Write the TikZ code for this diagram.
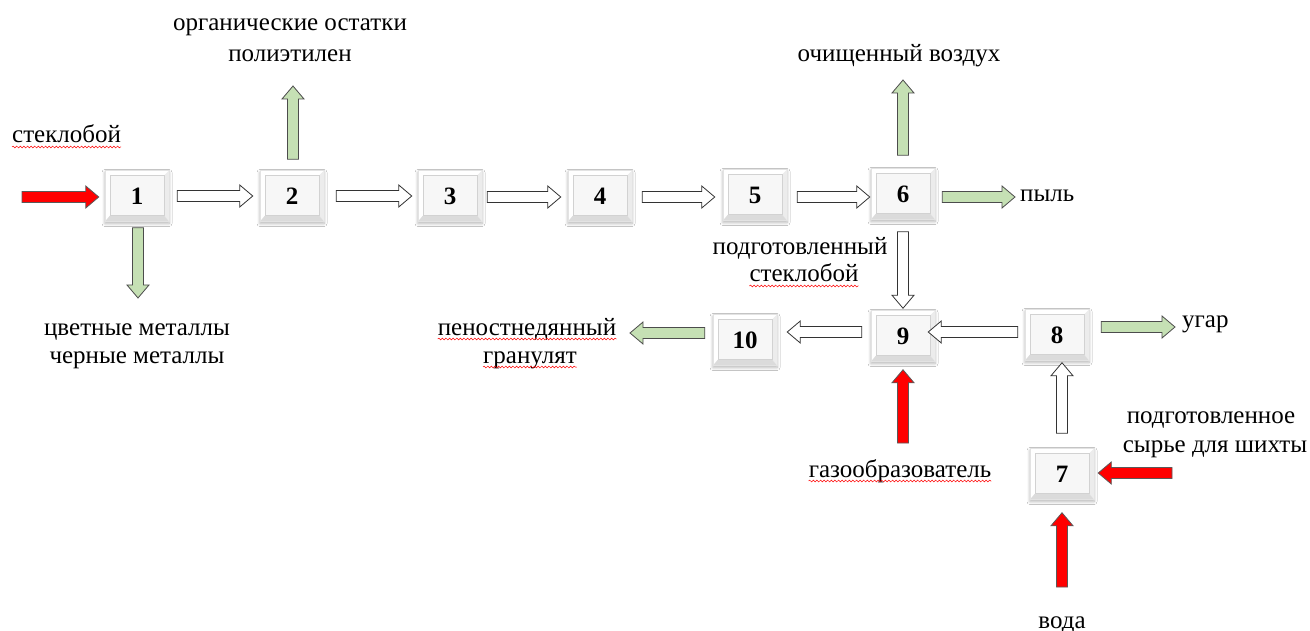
\documentclass[tikz,border=0pt]{standalone}
\usepackage{fontspec}
\setmainfont{Liberation Serif}
\usetikzlibrary{calc,shadows.blur,decorations.pathmorphing}
\definecolor{agreen}{RGB}{197,224,180}
\definecolor{ared}{RGB}{255,0,0}
\newcommand\blockarr[3]{%
  \path[#1] let \p1=(#2), \p2=(#3), \n1={atan2(\y2-\y1,\x2-\x1)}, \n2={veclen(\x2-\x1,\y2-\y1)} in
   [shift={(\p1)}, rotate=\n1] (0pt,-5.5pt) -- (\n2*1pt-13pt,-5.5pt) -- (\n2*1pt-13pt,-11pt) -- (\n2*1pt,0pt)
   -- (\n2*1pt-13pt,11pt) -- (\n2*1pt-13pt,5.5pt) -- (0pt,5.5pt) -- cycle;}
\begin{document}
\begin{tikzpicture}[x=1pt,y=-1pt,
  box/.style={minimum width=64pt,minimum height=51pt,inner sep=0pt,draw=gray!22,line width=0.5pt,
    fill=gray!5,font=\fontsize{25}{29}\selectfont\bfseries,
    blur shadow={shadow xshift=0pt,shadow yshift=-2pt,shadow blur radius=3pt,shadow blur steps=6,shadow opacity=30},
    path picture={
      \path (path picture bounding box.north west) coordinate (pnw)
            (path picture bounding box.north east) coordinate (pne)
            (path picture bounding box.south west) coordinate (psw)
            (path picture bounding box.south east) coordinate (pse);
      \fill[white] (pnw) -- (pne) -- ([shift={(-5pt,-5pt)}]pne) -- ([shift={(5pt,-5pt)}]pnw) -- cycle;
      \fill[white] (pnw) -- (psw) -- ([shift={(5pt,6pt)}]psw) -- ([shift={(5pt,-5pt)}]pnw) -- cycle;
      \fill[gray!15] (pse) -- (pne) -- ([shift={(-5pt,-5pt)}]pne) -- ([shift={(-5pt,6pt)}]pse) -- cycle;
      \fill[gray!28] (psw) -- (pse) -- ([shift={(-5pt,6pt)}]pse) -- ([shift={(5pt,6pt)}]psw) -- cycle;
      \fill[gray!6] ([shift={(5pt,-5pt)}]pnw) rectangle ([shift={(-5pt,6pt)}]pse);
      \draw[gray!35,line width=0.5pt] ([shift={(5pt,-5pt)}]pnw) rectangle ([shift={(-5pt,6pt)}]pse);
    }},
  lbl/.style={font=\fontsize{25}{29}\selectfont,inner sep=0pt,anchor=base},
  warr/.style={draw=black!80,fill=white,line width=0.8pt,line join=miter},
  garr/.style={draw=black!70,fill=agreen,line width=0.8pt,line join=miter},
  rarr/.style={draw=black!65,fill=ared,line width=0.8pt,line join=miter},
  squig/.style={red,line width=0.5pt,decorate,decoration={snake,amplitude=0.9pt,segment length=3.6pt}}
]
\useasboundingbox (0,0) rectangle (1310,631);
\fill[white] (0,0) rectangle (1310,631);

% boxes
\node[box] (b1) at (137,196) {1};
\node[box] (b2) at (292,196) {2};
\node[box] (b3) at (450,196) {3};
\node[box] (b4) at (600,196) {4};
\node[box] (b5) at (755,195) {5};
\node[box] (b6) at (903,194) {6};
\node[box] (b9) at (903,336) {9};
\node[box] (b10) at (745,340) {10};
\node[box] (b8) at (1057,335) {8};
\node[box] (b7) at (1062,474) {7};

% labels
\node[lbl,anchor=base west] (t1) at (12,143) {стеклобой};
\node[lbl] (t2a) at (290,31) {органические остатки};
\node[lbl] (t2b) at (290,62) {полиэтилен};
\node[lbl] (t3a) at (137,335) {цветные металлы};
\node[lbl] (t3b) at (137,363) {черные металлы};
\node[lbl] (t4) at (899,62) {очищенный воздух};
\node[lbl,anchor=base west] (t5) at (1020,202) {пыль};
\node[lbl] (t6a) at (800,255) {подготовленный};
\node[lbl] (t6b) at (804,282) {стеклобой};
\node[lbl] (t7a) at (527,335) {пеностнедянный};
\node[lbl] (t7b) at (530,363) {гранулят};
\node[lbl,anchor=base west] (t8) at (1182,327) {угар};
\node[lbl] (t9a) at (1211,423) {подготовленное};
\node[lbl] (t9b) at (1215,452) {сырье для шихты};
\node[lbl] (t10) at (900,477) {газообразователь};
\node[lbl] (t11) at (1062,628) {вода};

% spell-check squiggles
\draw[squig] ([yshift=-4pt]t1.base west) -- ([yshift=-4pt]t1.base east);
\draw[squig] ([yshift=-4pt]t6b.base west) -- ([yshift=-4pt]t6b.base east);
\draw[squig] ([yshift=-4pt]t7a.base west) -- ([yshift=-4pt]t7a.base east);
\draw[squig] ([yshift=-4pt]t7b.base west) -- ([yshift=-4pt]t7b.base east);
\draw[squig] ([yshift=-4pt]t10.base west) -- ([yshift=-4pt]t10.base east);

% free ends
\coordinate (in1) at (22,197);
\coordinate (o1) at (138,298);
\coordinate (o2) at (293,86);
\coordinate (o6) at (903,80);
\coordinate (o6r) at (1015,197);
\coordinate (o10) at (630,333);
\coordinate (o8) at (1175,327);
\coordinate (in9) at (903,443);
\coordinate (in7r) at (1172,473);
\coordinate (in7b) at (1062,587);

% arrows
\blockarr{rarr}{in1}{[xshift=-6pt,yshift=-1pt]b1.west}
\blockarr{warr}{[xshift=8pt]b1.east}{[xshift=-7pt]b2.west}
\blockarr{warr}{[xshift=12pt]b2.east}{[xshift=-6pt]b3.west}
\blockarr{warr}{[xshift=5pt,yshift=-1pt]b3.east}{[xshift=-7pt,yshift=-1pt]b4.west}
\blockarr{warr}{[xshift=10pt,yshift=-1pt]b4.east}{[xshift=-8pt,yshift=-2pt]b5.west}
\blockarr{warr}{[xshift=10pt,yshift=-2pt]b5.east}{[xshift=-1pt,yshift=-3pt]b6.west}
\blockarr{garr}{[xshift=7pt,yshift=-3pt]b6.east}{o6r}
\blockarr{garr}{[xshift=1pt,yshift=-6pt]b1.south}{o1}
\blockarr{garr}{[xshift=1pt,yshift=11pt]b2.north}{o2}
\blockarr{garr}{[yshift=13pt]b6.north}{o6}
\blockarr{warr}{[yshift=-12pt]b6.south}{[yshift=2pt]b9.north}
\blockarr{warr}{[xshift=-7pt,yshift=3pt]b8.west}{[xshift=-7pt,yshift=4pt]b9.east}
\blockarr{warr}{[xshift=-9pt,yshift=4pt]b9.west}{[xshift=10pt,yshift=8pt]b10.east}
\blockarr{garr}{[xshift=-8pt,yshift=7pt]b10.west}{o10}
\blockarr{garr}{[xshift=12pt,yshift=8pt]b8.east}{o8}
\blockarr{rarr}{in9}{[yshift=-8pt]b9.south}
\blockarr{warr}{[yshift=15pt]b7.north}{[xshift=5pt,yshift=-2pt]b8.south}
\blockarr{rarr}{in7r}{[xshift=4pt,yshift=1pt]b7.east}
\blockarr{rarr}{in7b}{[yshift=-13pt]b7.south}
\end{tikzpicture}
\end{document}
